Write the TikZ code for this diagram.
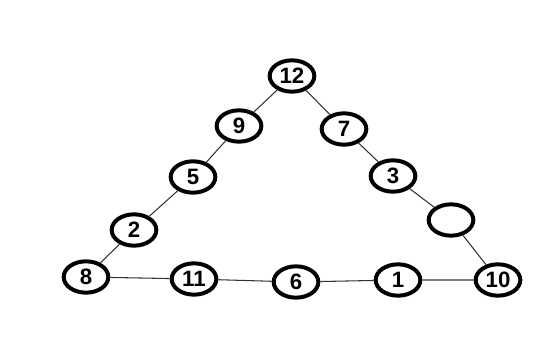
\documentclass[tikz,border=0pt]{standalone}
\usepackage{fontspec}
\setsansfont{Liberation Sans}
\usetikzlibrary{shapes.geometric}
\begin{document}
\begin{tikzpicture}[x=.03cm,y=-.03cm,
  num/.style={ellipse,draw,line width=3.4pt,minimum width=1.34cm,minimum height=.94cm,
    inner sep=0pt,font=\sffamily\bfseries\fontsize{19}{19}\selectfont},
  edge/.style={black!80,line width=.9pt}]
  \useasboundingbox (0,0) rectangle (556,343);
  \node[num] (n12) at (292,76) {12};
  \node[num] (n9) at (239,126) {9};
  \node[num] (n7) at (344,129) {7};
  \node[num] (n5) at (193,177) {5};
  \node[num] (n3) at (393,176) {3};
  \node[num] (n2) at (134,230) {2};
  \node[num] (nx) at (451,220) {};
  \node[num] (n8) at (86,277) {8};
  \node[num] (n11) at (194,279) {11};
  \node[num] (n6) at (296,282) {6};
  \node[num] (n1) at (398,280) {1};
  \node[num] (n10) at (498,280) {10};
  \draw[edge] (n12)--(n9) (n9)--(n5) (n5)--(n2) (n2)--(n8);
  \draw[edge] (n12)--(n7) (n7)--(n3) (n3)--(nx) (nx)--(n10);
  \draw[edge] (n8)--(n11) (n11)--(n6) (n6)--(n1) (n1)--(n10);
\end{tikzpicture}
\end{document}
